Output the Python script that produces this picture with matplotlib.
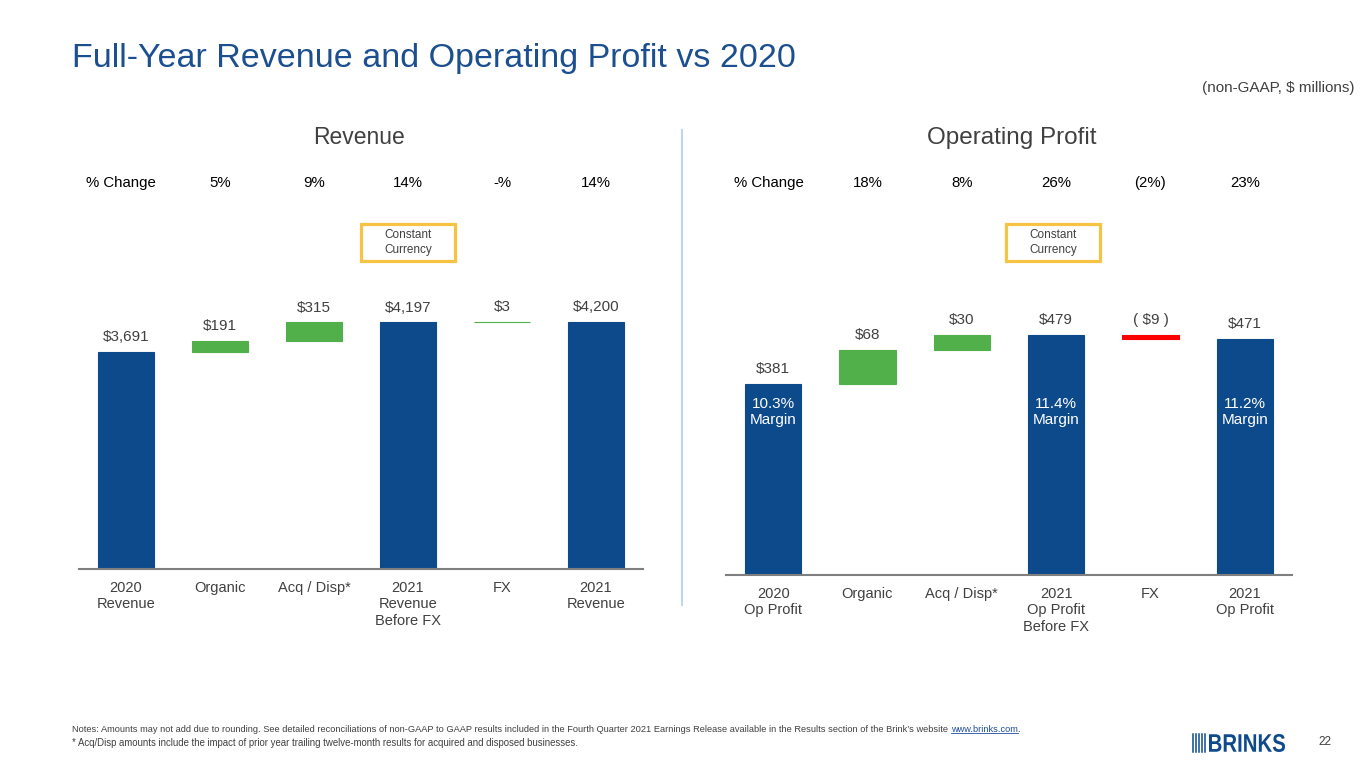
import matplotlib.pyplot as plt
from matplotlib.patches import Rectangle, PathPatch
from matplotlib.lines import Line2D
from matplotlib.textpath import TextPath
from matplotlib.font_manager import FontProperties
from matplotlib.transforms import Affine2D, IdentityTransform

plt.rcParams['font.family'] = ['Liberation Sans', 'DejaVu Sans']

# data
rev_labels = ['2020\nRevenue', 'Organic', 'Acq / Disp*', '2021\nRevenue\nBefore FX', 'FX', '2021\nRevenue']
rev_values = [3691, 191, 315, 4197, 3, 4200]
rev_text = ['$3,691', '$191', '$315', '$4,197', '$3', '$4,200']
rev_pct = ['5%', '9%', '14%', '-%', '14%']

op_labels = ['2020\nOp Profit', 'Organic', 'Acq / Disp*', '2021\nOp Profit\nBefore FX', 'FX', '2021\nOp Profit']
op_values = [381, 68, 30, 479, -9, 471]
op_text = ['$381', '$68', '$30', '$479', '( $9 )', '$471']
op_pct = ['18%', '8%', '26%', '(2%)', '23%']
op_margin = ['10.3%\nMargin', '', '', '11.4%\nMargin', '', '11.2%\nMargin']

is_total = [True, False, False, True, False, True]

NAVY = '#0D4A8C'
GREEN = '#52B04A'
RED = '#FF0000'
GREY = '#404040'
GOLD = '#F6C343'

W, H = 1365, 768
fig = plt.figure(figsize=(W / 100, H / 100), dpi=100)


def fx(x):
    return x / W


def fy(y):
    return 1 - y / H


def waterfall(ax, values, texts, labels):
    running = 0
    tops = []
    for i, v in enumerate(values):
        if is_total[i]:
            bottom, height, color = 0, v, NAVY
            running = v
        else:
            bottom, height = running, v
            color = GREEN if v >= 0 else RED
            running += v
        ax.bar(i, height, bottom=bottom, width=0.6, color=color,
               edgecolor=color, linewidth=0.8)
        tops.append(max(bottom, bottom + height))
    for i, t in enumerate(texts):
        ax.annotate(t, (i, tops[i]), xytext=(0, 10.5), textcoords='offset points',
                    ha='center', va='center', fontsize=11, color=GREY)
    ax.set_xlim(-0.5, len(values) - 0.5)
    ax.set_xticks(range(len(values)))
    ax.set_xticklabels(labels, fontsize=10.5, color=GREY, linespacing=1.22)
    ax.tick_params(axis='x', length=0, pad=8.5)
    ax.set_yticks([])
    for s in ['top', 'left', 'right']:
        ax.spines[s].set_visible(False)
    ax.spines['bottom'].set_color('#7F7F7F')
    ax.spines['bottom'].set_linewidth(1.5)
    return tops


# revenue panel (axis starts at zero)
ax1 = fig.add_axes([fx(79), fy(569), fx(564), (569 - 300) / H])
ax1.set_ylim(0, 3691 / 217 * 269)
waterfall(ax1, rev_values, rev_text, rev_labels)

# operating profit panel
ax2 = fig.add_axes([fx(726), fy(575), fx(566), (575 - 300) / H])
ax2.set_ylim(0, 381 / 191 * 275)
waterfall(ax2, op_values, op_text, op_labels)
for i, m in enumerate(op_margin):
    if m:
        ax2.text(i, 381 / 191 * (575 - 412), m, ha='center', va='center',
                 fontsize=11, color='white', linespacing=1.2)

# titles
fig.text(fx(72), fy(59), 'Full-Year Revenue and Operating Profit vs 2020',
         fontsize=24.5, color='#1B4F8F', va='center', ha='left')
fig.text(fx(1355), fy(88), '(non-GAAP, $ millions)', fontsize=11, color=GREY,
         ha='right', va='center')
fig.text(fx(359), fy(138), 'Revenue', fontsize=16.5, color=GREY, ha='center', va='center')
fig.text(fx(1012), fy(138), 'Operating Profit', fontsize=17.5, color=GREY, ha='center',
         va='center')

# % change rows
rev_x = [220, 314, 408, 502, 596]
op_x = [868, 962, 1056, 1150, 1245]
fig.text(fx(121), fy(183), '% Change', fontsize=10.8, color='black', ha='center', va='center')
fig.text(fx(769), fy(183), '% Change', fontsize=10.8, color='black', ha='center', va='center')
for x, p in zip(rev_x, rev_pct):
    fig.text(fx(x), fy(183), p, fontsize=10.8, color='black', ha='center', va='center')
for x, p in zip(op_x, op_pct):
    fig.text(fx(x), fy(183), p, fontsize=10.8, color='black', ha='center', va='center')

# constant currency boxes
for x0 in [361, 1006]:
    fig.add_artist(Rectangle((fx(x0), fy(261)), fx(94), 37 / H, transform=fig.transFigure,
                             fill=False, edgecolor=GOLD, linewidth=2.3))
    fig.text(fx(x0 + 47), fy(242.5), 'Constant\nCurrency', fontsize=8.5, color=GREY,
             ha='center', va='center', linespacing=1.35)

# divider
fig.add_artist(Line2D([fx(682), fx(682)], [fy(130), fy(605)], transform=fig.transFigure,
                      color='#BDD7EE', linewidth=1.5))

# notes
note1 = ('Notes: Amounts may not add due to rounding. See detailed reconciliations of non-GAAP to '
         'GAAP results included in the Fourth Quarter 2021 Earnings Release available in the '
         'Results section of the Brink\u2019s website ')
note2 = '* Acq/Disp amounts include the impact of prior year trailing twelve-month results for acquired and disposed businesses.'
t1 = fig.text(fx(72), fy(729), note1, fontsize=6.65, color=GREY, ha='left', va='center')
fig.text(fx(72), fy(743), note2, fontsize=6.9, color=GREY, ha='left', va='center')
r = fig.canvas.get_renderer()
bb = t1.get_window_extent(r)
link = fig.text(bb.x1 / W, fy(729), 'www.brinks.com', fontsize=6.65, color='#1F4E9A',
                ha='left', va='center')
lb = link.get_window_extent(r)
fig.add_artist(Line2D([lb.x0 / W, lb.x1 / W], [(lb.y0 + 0.5) / H] * 2,
                      transform=fig.transFigure, color='#1F4E9A', linewidth=0.6))
fig.text(lb.x1 / W, fy(729), '.', fontsize=6.65, color=GREY, ha='left', va='center')

# logo
for k in range(5):
    x = 1193 + k * 3
    fig.add_artist(Line2D([fx(x), fx(x)], [fy(734), fy(752)], transform=fig.transFigure,
                          color=NAVY, linewidth=1.1))
tp = TextPath((0, 0), 'BRINKS', size=25, prop=FontProperties(family='Liberation Sans', weight='bold'))
ext = tp.get_extents()
sx = (1285 - 1209) / ext.width
sy = 18 / ext.height
tr = Affine2D().translate(-ext.x0, -ext.y0).scale(sx, sy).translate(1209, H - 752)
fig.add_artist(PathPatch(tr.transform_path(tp), transform=IdentityTransform(),
                         facecolor=NAVY, edgecolor='none'))
fig.text(fx(1325), fy(742), '22', fontsize=8.5, color=GREY, ha='center', va='center')

fig.savefig('out.png', dpi=100)
